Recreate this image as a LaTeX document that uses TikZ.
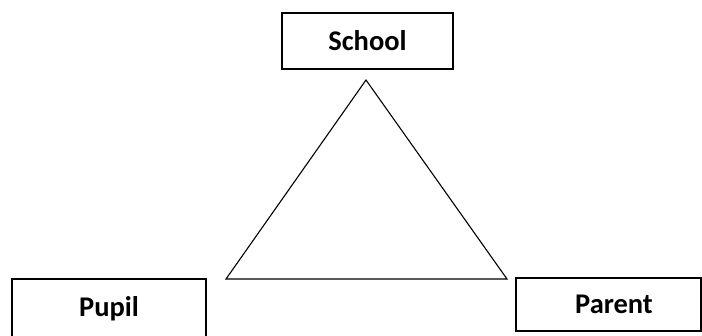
\documentclass[tikz,border=0pt]{standalone}
\usepackage{fontspec}
\setmainfont{Carlito}
\usepackage{tikz}

\begin{document}
\begin{tikzpicture}[x=1pt, y=-1pt,
                box/.style={rectangle, draw=black, line width=1.4pt, fill=white, font=\bfseries\fontsize{28.5}{32}\selectfont, align=center, inner sep=0pt},
                edge/.style={draw=black, line width=1.1pt, line join=miter}]

            \useasboundingbox (0,0) rectangle (702,335);

            \node[box, minimum width=171pt, minimum height=56pt] (school) at (367.5,41) {School};
            \node[box, minimum width=194pt, minimum height=59pt] (pupil) at (109,308.5) {Pupil};
            \node[box, minimum width=185pt, minimum height=53pt] (parent) at (608.5,304.5) {\hspace{11pt}Parent};

            % Triangle
            \coordinate (top) at (366,80);
            \coordinate (left) at (226,279);
            \coordinate (right) at (507,279);
            \draw[edge] (top) -- (left) -- (right) -- cycle;

        \end{tikzpicture}
\end{document}
